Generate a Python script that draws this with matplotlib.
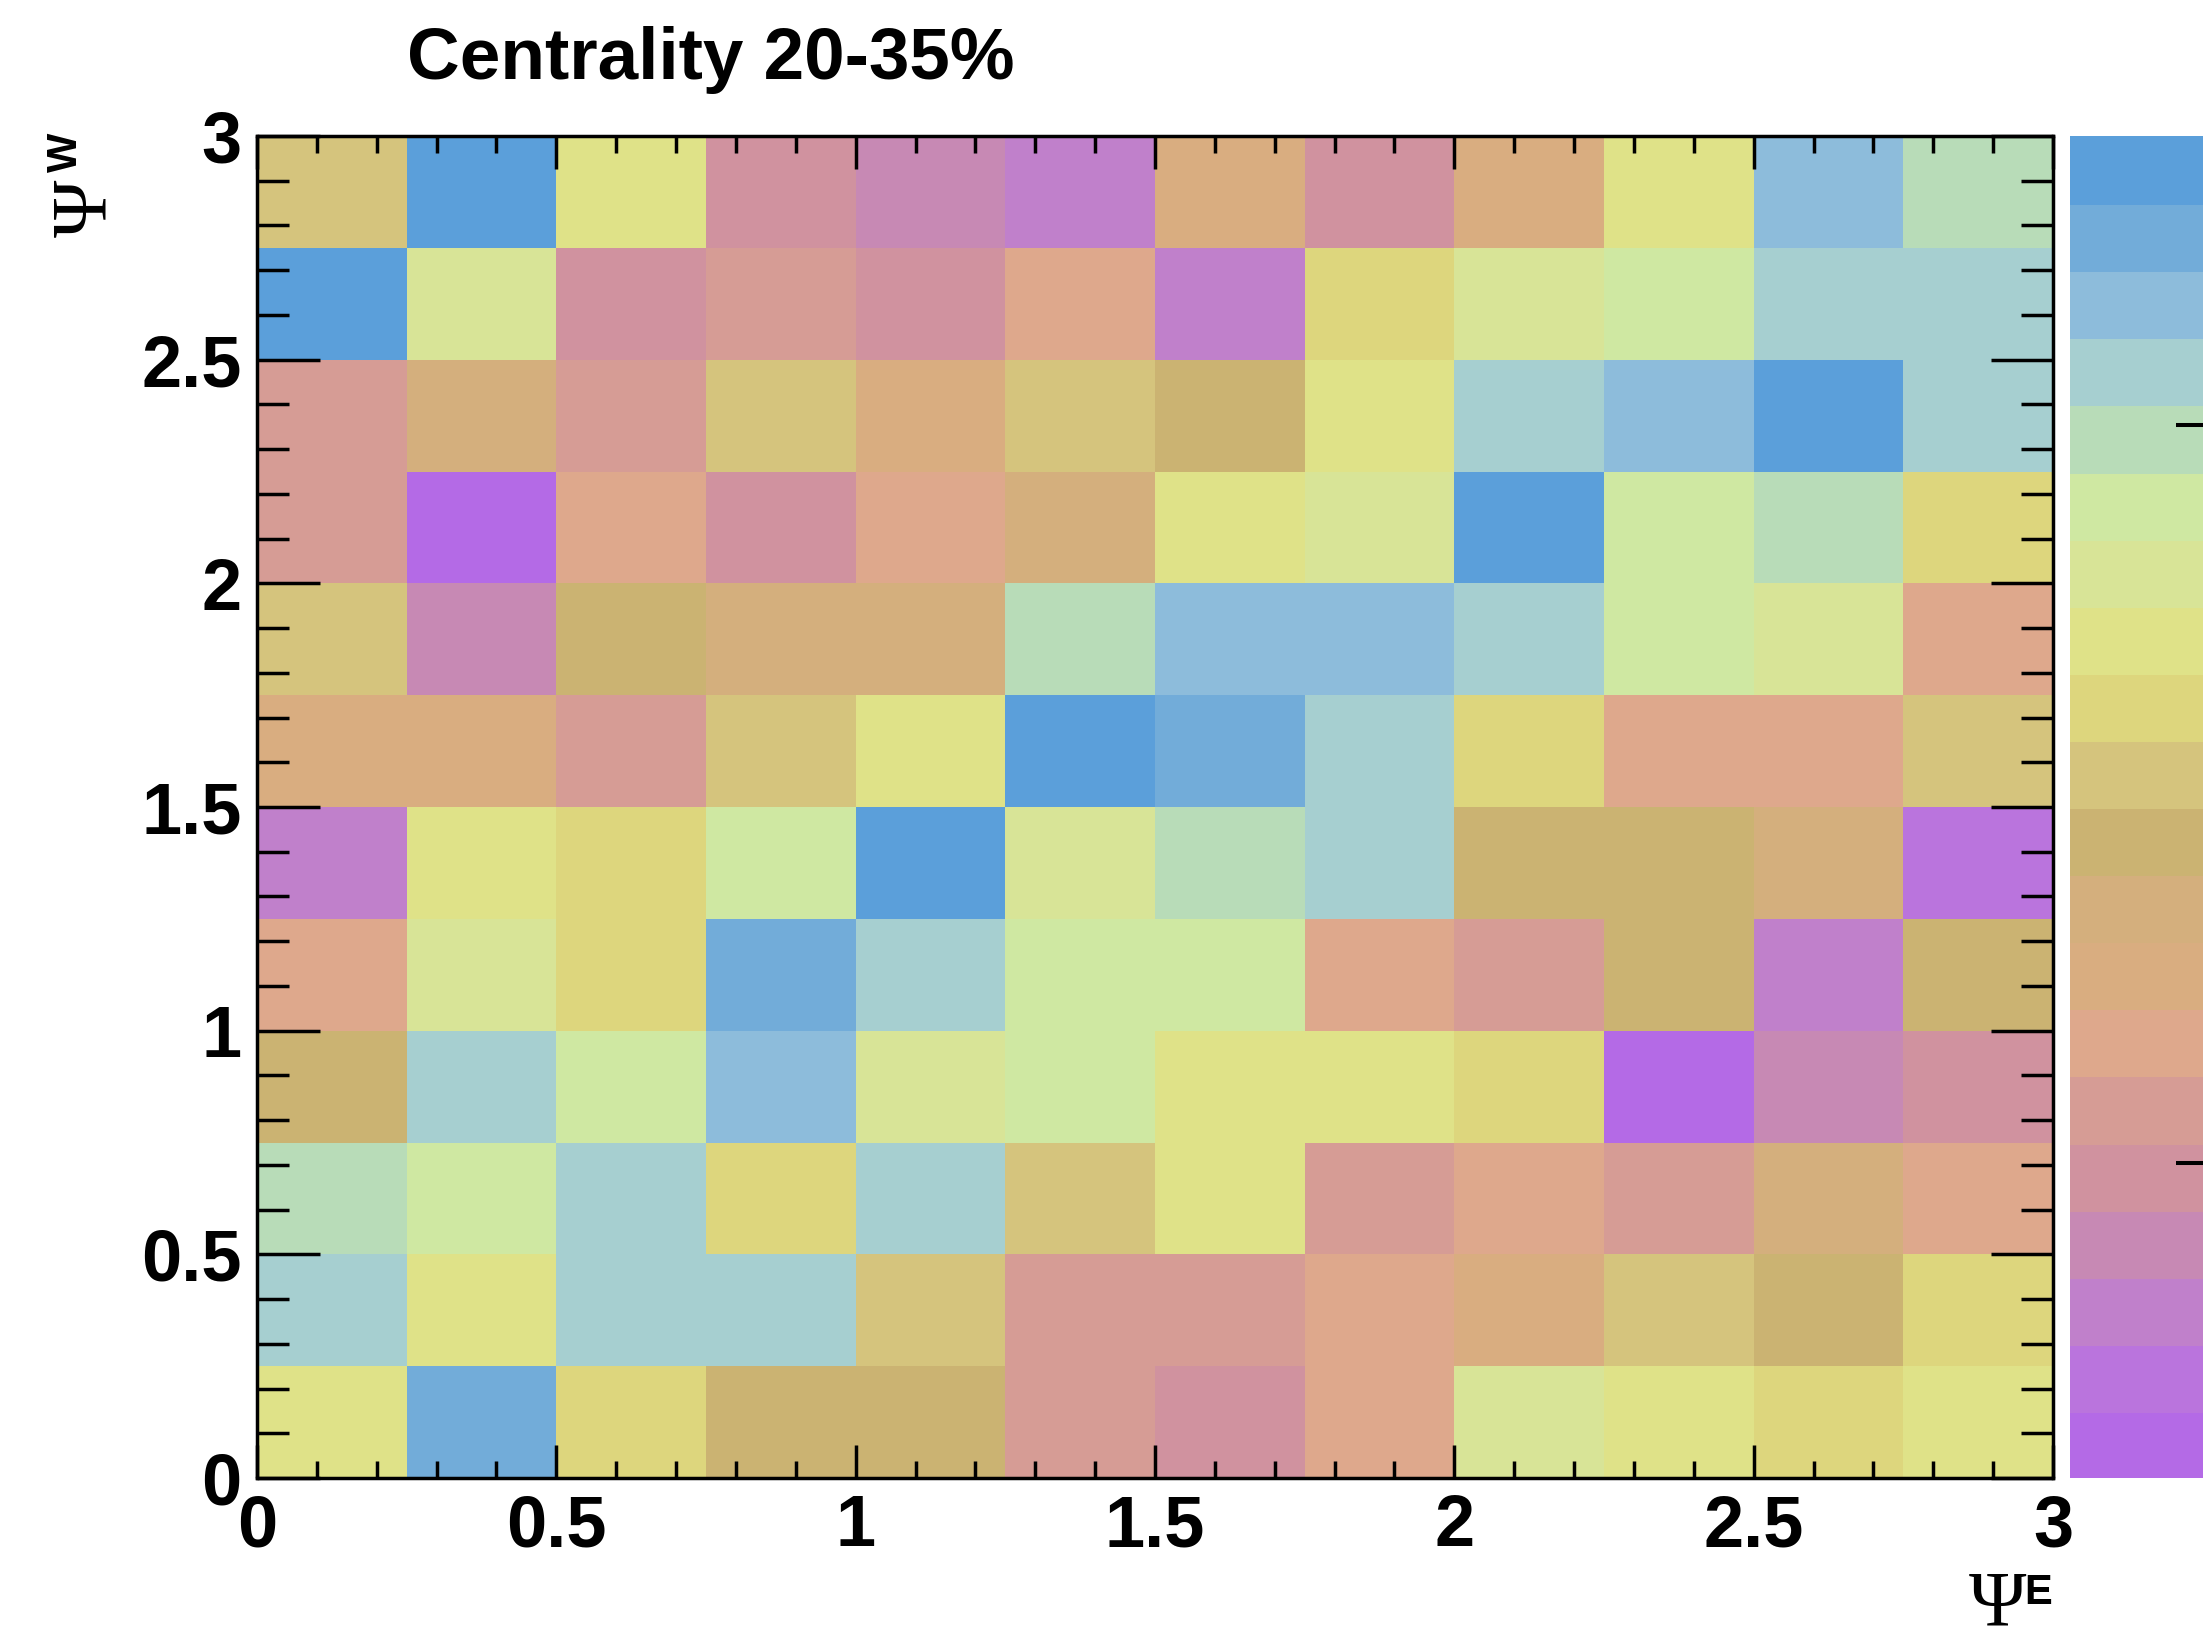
import matplotlib
matplotlib.use("Agg")
import matplotlib.pyplot as plt
import numpy as np
from matplotlib.colors import ListedColormap, BoundaryNorm
from matplotlib.ticker import MultipleLocator

plt.rcParams["font.family"] = ["Liberation Sans", "DejaVu Sans"]
plt.rcParams["font.weight"] = "bold"

# ---- data ----
TITLE = "Centrality 20-35%"
X_EDGES = [0.0, 0.25, 0.5, 0.75, 1.0, 1.25, 1.5, 1.75, 2.0, 2.25, 2.5, 2.75, 3.0]
Y_EDGES = [0.0, 0.25, 0.5, 0.75, 1.0, 1.25, 1.5, 1.75, 2.0, 2.25, 2.5, 2.75, 3.0]
TICK_VALUES = [0.0, 0.5, 1.0, 1.5, 2.0, 2.5, 3.0]
TICK_LABELS = ["0", "0.5", "1", "1.5", "2", "2.5", "3"]

# palette bin (0 = bottom/purple ... 19 = top/blue) of every cell
# rows go from top (Psi^W 2.75-3) down to bottom (0-0.25), columns Psi^E 0 -> 3
CELL_LEVELS = [
    [10, 19, 12, 4, 3, 2, 7, 4, 7, 12, 17, 15],
    [19, 13, 4, 5, 4, 6, 2, 11, 13, 14, 16, 16],
    [5, 8, 5, 10, 7, 10, 9, 12, 16, 17, 19, 16],
    [5, 0, 6, 4, 6, 8, 12, 13, 19, 14, 15, 11],
    [10, 3, 9, 8, 8, 15, 17, 17, 16, 14, 13, 6],
    [7, 7, 5, 10, 12, 19, 18, 16, 11, 6, 6, 10],
    [2, 12, 11, 14, 19, 13, 15, 16, 9, 9, 8, 1],
    [6, 13, 11, 18, 16, 14, 14, 6, 5, 9, 2, 9],
    [9, 16, 14, 17, 13, 14, 12, 12, 11, 0, 3, 4],
    [15, 14, 16, 11, 16, 10, 12, 5, 6, 5, 8, 6],
    [16, 12, 16, 16, 10, 5, 5, 6, 7, 10, 9, 11],
    [12, 18, 11, 9, 9, 5, 4, 6, 13, 12, 11, 12],
]
# z-axis ticks on the palette (in palette-bin units)
PALETTE_TICKS = [4.2, 15.2]

# ROOT-like palette, bottom -> top
PALETTE = ["#b46ae6", "#ba74dd", "#c080cb", "#c789b4", "#d0929f",
           "#d69c95", "#dea88c", "#d9ad80", "#d4af7d", "#cbb372",
           "#d5c47d", "#ddd67d", "#dfe288", "#d8e497", "#cfe8a2",
           "#b8dcb8", "#a6cfd0", "#8dbcdb", "#72acd9", "#5b9fda"]

W, H = 2203, 1638
fig = plt.figure(figsize=(W / 100, H / 100), dpi=100)
ax = fig.add_axes([257 / W, 1 - 1478 / H, (2053 - 257) / W, (1478 - 136) / H])

cmap = ListedColormap(PALETTE)
norm = BoundaryNorm(np.arange(-0.5, len(PALETTE)), len(PALETTE))
z = np.array(CELL_LEVELS)[::-1]
mesh = ax.pcolormesh(X_EDGES, Y_EDGES, z, cmap=cmap, norm=norm,
                     shading="flat", edgecolors="none", antialiased=False)

ax.set_xlim(X_EDGES[0], X_EDGES[-1])
ax.set_ylim(Y_EDGES[0], Y_EDGES[-1])
ax.set_xticks(TICK_VALUES, TICK_LABELS)
ax.set_yticks(TICK_VALUES, TICK_LABELS)
ax.xaxis.set_minor_locator(MultipleLocator(0.1))
ax.yaxis.set_minor_locator(MultipleLocator(0.1))
ax.tick_params(axis="x", which="major", direction="in", length=24, width=2.5,
               top=True, bottom=True, labelsize=52, pad=11)
ax.tick_params(axis="x", which="minor", direction="in", length=12, width=2.5,
               top=True, bottom=True)
ax.tick_params(axis="y", which="major", direction="in", length=45, width=2.5,
               left=True, right=True, labelsize=52, pad=11)
ax.tick_params(axis="y", which="minor", direction="in", length=23, width=2.5,
               left=True, right=True)
for sp in ax.spines.values():
    sp.set_linewidth(2.5)

# axis titles: serif Psi with bold sans superscript, ROOT style
PSI_SIZE, SUP_SIZE = 56, 30
ax.annotate("\u03a8", xy=(1, 0), xycoords="axes fraction",
            xytext=(-19.4, -105.5), textcoords="offset points",
            ha="right", va="baseline", fontsize=PSI_SIZE, fontweight="normal",
            family="Liberation Serif")
ax.annotate("E", xy=(1, 0), xycoords="axes fraction",
            xytext=(-0.5, -91.0), textcoords="offset points",
            ha="right", va="baseline", fontsize=SUP_SIZE, fontweight="bold")
ax.annotate("\u03a8", xy=(0, 1), xycoords="axes fraction",
            xytext=(-109.4, -31.7), textcoords="offset points",
            ha="right", va="baseline", rotation=90, rotation_mode="anchor",
            fontsize=PSI_SIZE, fontweight="normal", family="Liberation Serif")
ax.annotate("W", xy=(0, 1), xycoords="axes fraction",
            xytext=(-129.6, 2.0), textcoords="offset points",
            ha="right", va="baseline", rotation=90, rotation_mode="anchor",
            fontsize=SUP_SIZE, fontweight="bold")

fig.text(407 / W, 1 - 79 / H, TITLE, fontsize=52.5, fontweight="bold",
         ha="left", va="baseline")

# colour palette, running off the right edge of the canvas
cax = fig.add_axes([2070 / W, 1 - 1478 / H, 136 / W, (1478 - 136) / H])
cb = fig.colorbar(mesh, cax=cax)
cb.outline.set_visible(False)
cb.solids.set_edgecolor("face")
cb.set_ticks(PALETTE_TICKS)
cax.tick_params(which="major", direction="in", length=21.6, width=2.9,
                right=True, labelright=False)
cax.minorticks_off()

fig.savefig("out.png", dpi=100)
plt.close(fig)
